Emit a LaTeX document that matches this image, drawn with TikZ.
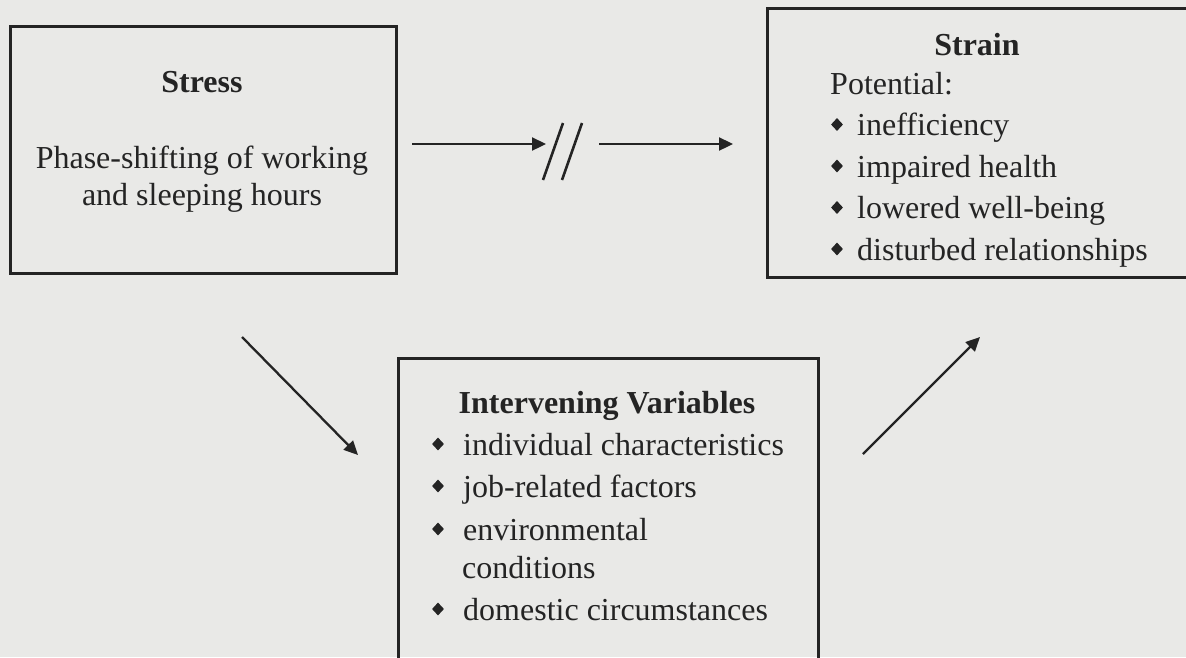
\documentclass[tikz,border=0pt]{standalone}
\usepackage{fontspec}
\setmainfont{Liberation Serif}
\usetikzlibrary{arrows.meta,shapes.geometric}
\definecolor{paper}{HTML}{E9E9E7}
\definecolor{ink}{HTML}{242424}
\begin{document}
\begin{tikzpicture}[x=1pt,y=-1pt,
  boxline/.style={draw=ink, line width=2.6pt},
  txt/.style={anchor=base west, inner sep=0pt, text=ink, font=\fontsize{32}{41.5}\selectfont},
  ctxt/.style={txt, anchor=base},
  ttl/.style={ctxt, font=\fontsize{32}{41.5}\selectfont\bfseries},
  bul/.style={diamond, fill=ink, inner sep=0pt, minimum width=12pt, minimum height=13pt},
  arr/.style={draw=ink, line width=2.3pt, -{Triangle[length=14pt,width=13pt]}},
  slash/.style={draw=ink, line width=2.6pt}]
\useasboundingbox[fill=paper] (0,0) rectangle (1186,657);
% boxes
\node[boxline, anchor=north west, minimum width=386pt, minimum height=247pt, inner sep=0pt] (stress) at (9,25) {};
\node[boxline, anchor=north west, minimum width=422pt, minimum height=269pt, inner sep=0pt] (strain) at (766,7) {};
\node[boxline, anchor=north west, minimum width=420pt, minimum height=320pt, inner sep=0pt] (interv) at (397,357) {};
% stress text
\node[ttl] (stressT) at (202,92) {Stress};
\node[ctxt] (stress1) at (202,168) {Phase-shifting of working};
\node[ctxt] (stress2) at (202,205) {and sleeping hours};
% strain text
\node[ttl] (strainT) at (977,55) {Strain};
\node[txt] (pot) at (830,94) {Potential:};
\node[bul] (sb1) at (837,124.5) {};
\node[txt] (s1) at (857,135.5) {inefficiency};
\node[bul] (sb2) at (837,166) {};
\node[txt] (s2) at (857,177) {impaired health};
\node[bul] (sb3) at (837,207.5) {};
\node[txt] (s3) at (857,218.5) {lowered well-being};
\node[bul] (sb4) at (837,249) {};
\node[txt] (s4) at (857,260) {disturbed relationships};
% intervening text
\node[ttl] (intT) at (607,413) {Intervening Variables};
\node[bul] (ib1) at (438,444) {};
\node[txt] (i1) at (463,455) {individual characteristics};
\node[bul] (ib2) at (438,486) {};
\node[txt] (i2) at (463,497) {job-related factors};
\node[bul] (ib3) at (438,529) {};
\node[txt] (i3) at (463,540) {environmental};
\node[txt] (i3b) at (462,578) {conditions};
\node[bul] (ib4) at (438,609) {};
\node[txt] (i4) at (463,620) {domestic circumstances};
% connector end points
\coordinate (a1s) at (412,144);
\coordinate (a1e) at (546,144);
\coordinate (a2s) at (599,144);
\coordinate (a2e) at (733,144);
\coordinate (k1a) at (543,180);
\coordinate (k1b) at (563,123);
\coordinate (k2a) at (562,180);
\coordinate (k2b) at (582,123);
\coordinate (d1s) at (242,337);
\coordinate (d1e) at (358,455);
\coordinate (d2s) at (863,454);
\coordinate (d2e) at (980,337);
\draw[arr] (a1s) -- (a1e);
\draw[arr] (a2s) -- (a2e);
\draw[slash] (k1a) -- (k1b);
\draw[slash] (k2a) -- (k2b);
\draw[arr] (d1s) -- (d1e);
\draw[arr] (d2s) -- (d2e);
\end{tikzpicture}
\end{document}
